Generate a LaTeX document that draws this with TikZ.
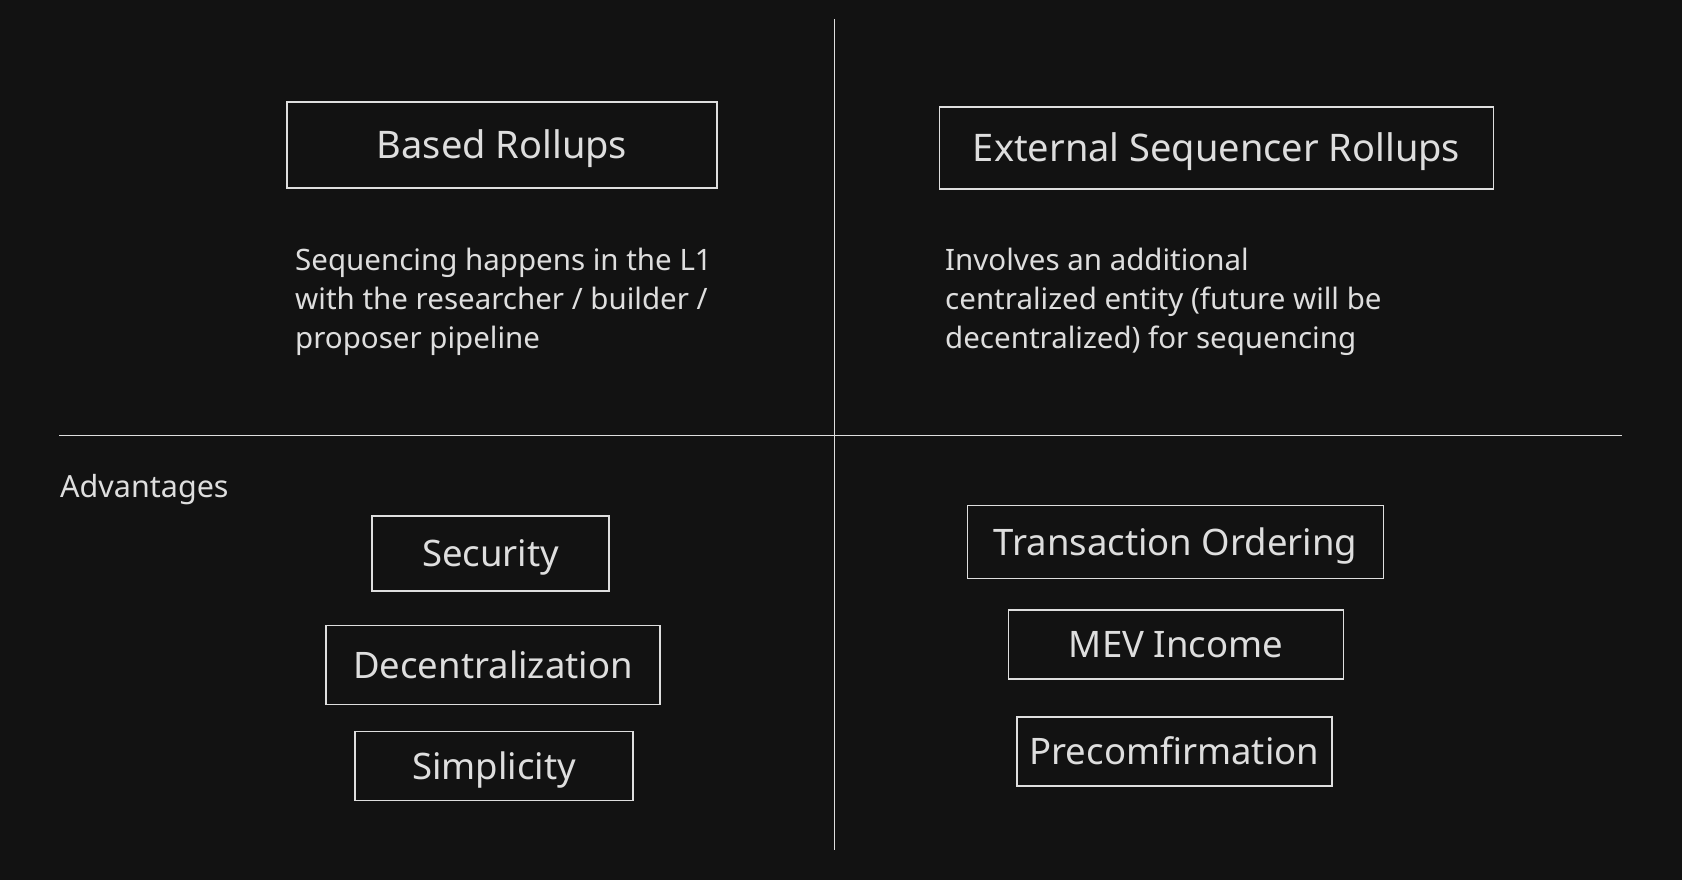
\documentclass[tikz,border=0pt]{standalone}
\usepackage{fontspec}
\setmainfont{Noto Sans}
\usepackage{xcolor}
\usetikzlibrary{positioning}
\definecolor{bgdark}{HTML}{121212}
\definecolor{chalk}{HTML}{DEDEDE}

\begin{document}
\begin{tikzpicture}[x=1pt,y=-1pt,
  every node/.style={text=chalk},
  tag/.style={draw=chalk, line width=1.6pt, inner sep=0pt, text height=27pt, text depth=0pt, font=\fontsize{38}{46}\selectfont},
  perk/.style={tag, text height=26.5pt, font=\fontsize{36.5}{44}\selectfont},
  blurb/.style={anchor=north west, inner sep=0pt, align=left, font=\fontsize{29.5}{38.7}\selectfont},
  rule/.style={draw=chalk, line width=1.6pt}]
\fill[bgdark] (0,0) rectangle (1682,880);

% quadrant lines
\coordinate (vtop) at (834.6,19);
\coordinate (vbot) at (834.6,850);
\coordinate (hleft) at (59,435.5);
\coordinate (hright) at (1622,435.5);
\draw[rule] (vtop) -- (vbot);
\draw[rule] (hleft) -- (hright);

% based rollups
\node[tag, minimum width=430, minimum height=86] (based) at (502,145) {Based Rollups};
\node[blurb] (basedtxt) at (295,248) {Sequencing happens in the L1\\with the researcher / builder /\\proposer pipeline};

% external sequencer rollups
\node[tag, minimum width=554, minimum height=82] (extseq) at (1216.5,148) {External Sequencer Rollups};
\node[blurb] (extseqtxt) at (945,248) {Involves an additional\\centralized entity (future will be\\decentralized) for sequencing};

% advantages
\node[anchor=north west, inner sep=0pt, font=\fontsize{30.5}{38}\selectfont] (adv) at (60,474) {Advantages};

\node[perk, minimum width=237, minimum height=75] (security) at (490.7,553.5) {Security};
\node[perk, minimum width=334, minimum height=79] (decent) at (493,665) {Decentralization};
\node[perk, minimum width=278, minimum height=69] (simple) at (494,766) {Simplicity};

\node[perk, minimum width=416, minimum height=73] (txorder) at (1175.5,542) {Transaction Ordering};
\node[perk, minimum width=335, minimum height=69] (mev) at (1176,644.5) {MEV Income};
\node[perk, minimum width=315, minimum height=69] (precon) at (1174.3,751.5) {Precomfirmation};
\end{tikzpicture}
\end{document}
